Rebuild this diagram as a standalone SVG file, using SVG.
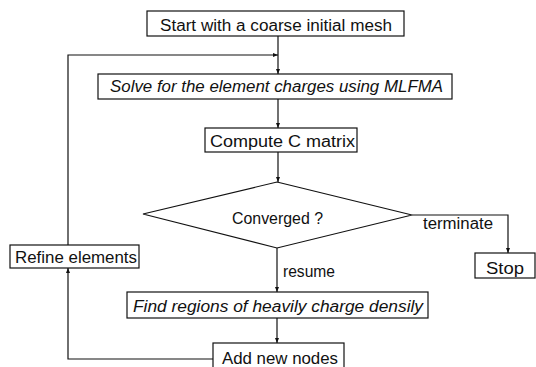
<svg xmlns="http://www.w3.org/2000/svg" width="536" height="367" viewBox="0 0 536 367">
<style>
.box{fill:#fff;stroke:#111;stroke-width:1.2}
.t{font-family:"Liberation Sans",Arial,sans-serif;font-size:16px;fill:#111}
.i{font-style:italic}
.c{fill:none;stroke:#111;stroke-width:1.2}
</style>
<defs>
<marker id="ah" viewBox="0 0 10 10" refX="10" refY="5" markerWidth="5" markerHeight="5" orient="auto" markerUnits="userSpaceOnUse">
<path d="M0,1 L10,5 L0,9 Z" fill="#111"/>
</marker>
</defs>
<rect width="536" height="367" fill="#fff"/>
<g id="connectors">
<path class="c" d="M278,36 V74" marker-end="url(#ah)"/>
<path class="c" d="M68,245 V55 H278" marker-end="url(#ah)"/>
<path class="c" d="M278,99 V128" marker-end="url(#ah)"/>
<path class="c" d="M278,152 V182" marker-end="url(#ah)"/>
<path class="c" d="M277,248 V292" marker-end="url(#ah)"/>
<path class="c" d="M412,215 H508 V253" marker-end="url(#ah)"/>
<path class="c" d="M277,318 V343" marker-end="url(#ah)"/>
<path class="c" d="M213,359 H68 V268" marker-end="url(#ah)"/>
<text class="t" x="423" y="229" textLength="70" lengthAdjust="spacingAndGlyphs">terminate</text>
<text class="t" x="283" y="277" textLength="52" lengthAdjust="spacingAndGlyphs">resume</text>
</g>
<g id="start">
<rect class="box" x="147" y="11" width="257" height="25"/>
<text class="t" x="160" y="31" textLength="232" lengthAdjust="spacingAndGlyphs">Start with a coarse initial mesh</text>
</g>
<g id="solve">
<rect class="box" x="98" y="74" width="354" height="25"/>
<text class="t i" x="110" y="92" textLength="333" lengthAdjust="spacingAndGlyphs">Solve for the element charges using MLFMA</text>
</g>
<g id="compute">
<rect class="box" x="205" y="128" width="152" height="24"/>
<text class="t" x="210" y="147" textLength="145" lengthAdjust="spacingAndGlyphs">Compute C matrix</text>
</g>
<g id="converged">
<polygon class="box" points="277,182 412,215 277,248 143,214"/>
<text class="t" x="232" y="224" textLength="91" lengthAdjust="spacingAndGlyphs">Converged ?</text>
</g>
<g id="refine">
<rect class="box" x="10" y="245" width="129" height="23"/>
<text class="t" x="15" y="263" textLength="122" lengthAdjust="spacingAndGlyphs">Refine elements</text>
</g>
<g id="stop">
<rect class="box" x="475" y="253" width="60" height="25"/>
<text class="t" x="486" y="274" textLength="38" lengthAdjust="spacingAndGlyphs">Stop</text>
</g>
<g id="find">
<rect class="box" x="127" y="292" width="301" height="26"/>
<text class="t i" x="133" y="312" textLength="290" lengthAdjust="spacingAndGlyphs">Find regions of heavily charge densily</text>
</g>
<g id="add">
<rect class="box" x="213" y="343" width="131" height="30"/>
<text class="t" x="222" y="364" textLength="116" lengthAdjust="spacingAndGlyphs">Add new nodes</text>
</g>
</svg>
